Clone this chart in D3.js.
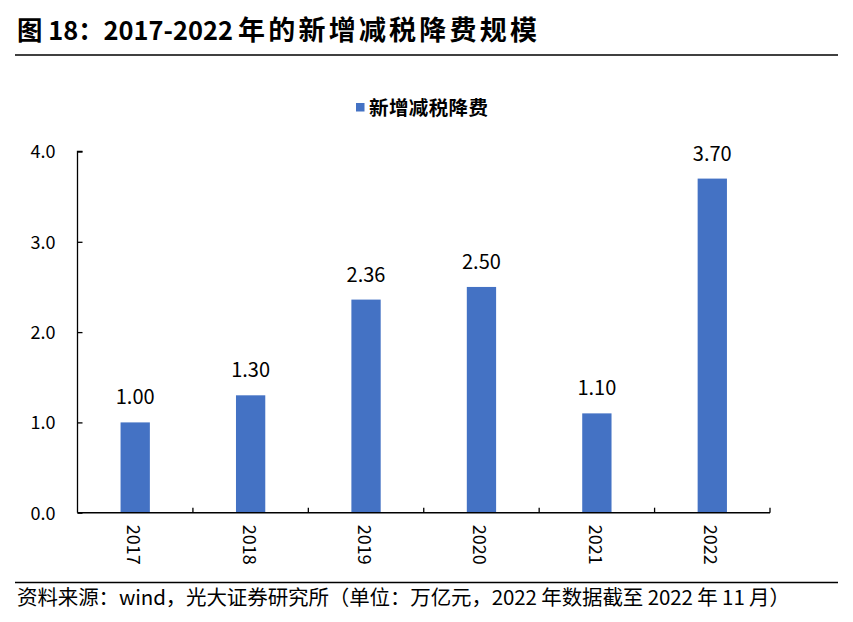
<!DOCTYPE html>
<html><head><meta charset="utf-8">
<script src="https://cdn.jsdelivr.net/npm/d3@7"></script>
<style>body{margin:0;background:#fff;} svg{display:block;font-family:"Noto Sans CJK SC","Noto Sans",sans-serif;}</style>
</head><body>
<script>
const titlePrefix = "图 18：2017-2022";
const titleRest = "年的新增减税降费规模";
const sourceText = "资料来源：wind，光大证券研究所（单位：万亿元，2022 年数据截至 2022 年 11 月）";
const seriesName = "新增减税降费";
const categories = ["2017","2018","2019","2020","2021","2022"];
const values = [1.00, 1.30, 2.36, 2.50, 1.10, 3.70];
const yTicks = [0, 1, 2, 3, 4];

const W = 853, H = 622;
const svg = d3.select("body").append("svg").attr("width", W).attr("height", H);

const m = {left: 77.5, right: 770, top: 151.5, bottom: 512.7};
const x = d3.scaleBand().domain(categories).range([m.left, m.right]);
const y = d3.scaleLinear().domain([0, 4]).range([m.bottom, m.top]);

// title
svg.append("text").attr("x", 17).attr("y", 40).attr("font-size", 26).attr("font-weight", 700)
  .attr("fill", "#000").attr("textLength", 216).attr("lengthAdjust", "spacingAndGlyphs").text(titlePrefix);
svg.append("text").attr("x", 238).attr("y", 40).attr("font-size", 27).attr("font-weight", 700)
  .attr("fill", "#000").attr("textLength", 299).attr("lengthAdjust", "spacing").text(titleRest);
svg.append("line").attr("x1", 15).attr("x2", 838).attr("y1", 55).attr("y2", 55)
  .attr("stroke", "#000").attr("stroke-width", 1.5);

// legend
svg.append("rect").attr("x", 356).attr("y", 103).attr("width", 8.5).attr("height", 8.5).attr("fill", "#4472C4");
svg.append("text").attr("x", 369).attr("y", 114.5).attr("font-size", 19.5).attr("font-weight", 700)
  .attr("fill", "#000").attr("textLength", 119).attr("lengthAdjust", "spacing").text(seriesName);

// bars
const bw = 29.3;
svg.selectAll("rect.bar").data(values).join("rect").attr("class", "bar")
  .attr("x", (d, i) => x(categories[i]) + x.bandwidth() / 2 - bw / 2)
  .attr("width", bw)
  .attr("y", d => y(d))
  .attr("height", d => y(0) - y(d))
  .attr("fill", "#4472C4");

// value labels
svg.selectAll("text.val").data(values).join("text").attr("class", "val")
  .attr("x", (d, i) => x(categories[i]) + x.bandwidth() / 2)
  .attr("y", d => y(d) - 18)
  .attr("text-anchor", "middle").attr("font-size", 20).attr("fill", "#000")
  .text(d => d.toFixed(2));

// y axis
const yAxis = d3.axisRight(y).tickValues(yTicks).tickSize(5).tickFormat(d3.format(".1f"));
const gy = svg.append("g").attr("transform", `translate(${m.left},0)`).call(yAxis);
gy.select(".domain").attr("d", `M${5},${m.top}H0V${m.bottom}`).attr("stroke", "#000").attr("stroke-width", 1.3);
gy.selectAll(".tick line").attr("stroke", "#000").attr("stroke-width", 1.3);
gy.selectAll(".tick text").attr("x", -22).attr("text-anchor", "end").attr("font-size", 18)
  .attr("fill", "#000").attr("font-family", "Noto Sans CJK SC").attr("dy", "0.35em");

// x axis
const xEdges = categories.map(c => x(c)).concat([m.right]);
const gx = svg.append("g");
gx.append("line").attr("x1", m.left).attr("x2", m.right).attr("y1", m.bottom).attr("y2", m.bottom)
  .attr("stroke", "#000").attr("stroke-width", 1.5);
gx.selectAll("line.tk").data(xEdges.slice(1)).join("line").attr("class", "tk")
  .attr("x1", d => d).attr("x2", d => d).attr("y1", m.bottom).attr("y2", m.bottom - 5)
  .attr("stroke", "#000").attr("stroke-width", 1.3);
gx.selectAll("text").data(categories).join("text")
  .attr("transform", d => `translate(${x(d) + x.bandwidth() / 2 - 8},${m.bottom + 12}) rotate(90)`)
  .attr("font-size", 18).attr("fill", "#000").text(d => d);

// source
svg.append("line").attr("x1", 15).attr("x2", 838).attr("y1", 582.5).attr("y2", 582.5)
  .attr("stroke", "#000").attr("stroke-width", 1.5);
svg.append("text").attr("x", 17).attr("y", 605).attr("font-size", 20.5).attr("fill", "#000")
  .attr("textLength", 773).attr("lengthAdjust", "spacing").text(sourceText);
</script>
</body></html>
